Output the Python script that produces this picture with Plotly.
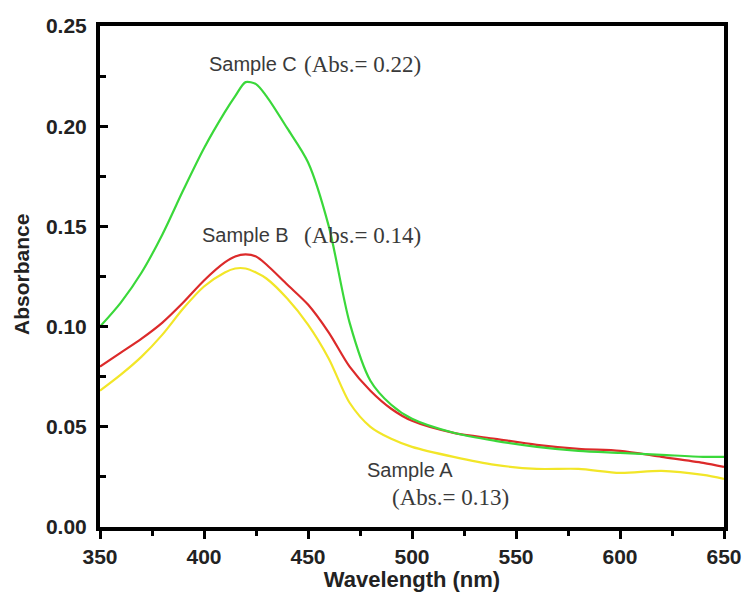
import plotly.graph_objects as go

# Wavelength grid (nm) and absorbance of the three samples
wavelength = [350, 360, 370, 380, 390, 400, 410, 415, 420, 425, 430, 440, 450,
              460, 470, 480, 490, 500, 520, 540, 560, 580, 600, 620, 640, 650]

sample_c = [0.100, 0.112, 0.127, 0.146, 0.168, 0.189, 0.207, 0.215, 0.222, 0.221,
            0.215, 0.199, 0.182, 0.150, 0.102, 0.073, 0.061, 0.054, 0.047, 0.043,
            0.040, 0.038, 0.037, 0.036, 0.035, 0.035]

sample_b = [0.080, 0.087, 0.094, 0.102, 0.112, 0.123, 0.132, 0.135, 0.136, 0.135,
            0.131, 0.121, 0.111, 0.097, 0.080, 0.068, 0.059, 0.053, 0.047, 0.044,
            0.041, 0.039, 0.038, 0.035, 0.032, 0.030]

sample_a = [0.068, 0.076, 0.085, 0.096, 0.109, 0.120, 0.127, 0.129, 0.129, 0.127,
            0.124, 0.114, 0.101, 0.084, 0.062, 0.050, 0.044, 0.040, 0.035, 0.031,
            0.029, 0.029, 0.027, 0.028, 0.026, 0.024]

series = [
    ("Sample A", sample_a, "#f2e628"),
    ("Sample B", sample_b, "#dc2a2a"),
    ("Sample C", sample_c, "#3ad83a"),
]

# Label pieces: (text, x, y, font family, size)
labels = [
    ("Sample C", 401.4, 0.231, "Liberation Sans, Arial", 20),
    ("(Abs.= 0.22)", 447.0, 0.231, "Liberation Serif, Times New Roman", 23),
    ("Sample B", 398.0, 0.1457, "Liberation Sans, Arial", 20),
    ("(Abs.= 0.14)", 447.0, 0.1457, "Liberation Serif, Times New Roman", 23),
    ("Sample A", 477.4, 0.0284, "Liberation Sans, Arial", 20),
    ("(Abs.= 0.13)", 489.4, 0.0145, "Liberation Serif, Times New Roman", 23),
]

fig = go.Figure()
for name, vals, color in series:
    fig.add_trace(go.Scatter(
        x=wavelength, y=vals, mode="lines", name=name,
        line=dict(color=color, width=2.2, shape="spline", smoothing=0.8),
        showlegend=False,
    ))

for text, x, y, fam, size in labels:
    fig.add_annotation(
        x=x, y=y, xref="x", yref="y", text=text, showarrow=False,
        xanchor="left", yanchor="middle",
        font=dict(family=fam, size=size, color="#3a3a3a"),
    )

# Vertical axis title, placed left of the tick labels
fig.add_annotation(
    x=-0.125, y=0.503, xref="paper", yref="paper", text="Absorbance",
    showarrow=False, textangle=-90, xanchor="center", yanchor="middle",
    font=dict(family="Liberation Sans, Arial", size=21, color="#222222", weight="bold"),
)

axis_font = dict(family="Liberation Sans, Arial", size=21, color="#222222", weight="bold")

fig.update_xaxes(
    range=[350, 650], dtick=50, tick0=350, automargin=False,
    showline=True, linewidth=4, linecolor="black", mirror=True,
    ticks="outside", ticklen=8, tickwidth=3, tickcolor="black",
    minor=dict(dtick=25, ticks="outside", ticklen=5, tickwidth=3, tickcolor="black"),
    showgrid=False, zeroline=False,
    tickfont=axis_font,
    title=dict(text="Wavelength (nm)",
               font=dict(family="Liberation Sans, Arial", size=22, color="#222222", weight="bold")),
)
fig.update_yaxes(
    range=[0, 0.25], dtick=0.05, tick0=0, tickformat=".2f", automargin=False,
    showline=True, linewidth=4, linecolor="black", mirror=True,
    ticks="inside", ticklen=8, tickwidth=3, tickcolor="black",
    minor=dict(dtick=0.025, ticks="inside", ticklen=6, tickwidth=3, tickcolor="black"),
    showgrid=False, zeroline=False,
    tickfont=axis_font, ticklabelstandoff=5,
)

fig.update_layout(
    width=745, height=592,
    margin=dict(l=100, r=21, t=26, b=65),
    paper_bgcolor="white", plot_bgcolor="white",
)

fig.write_html("out.html")
